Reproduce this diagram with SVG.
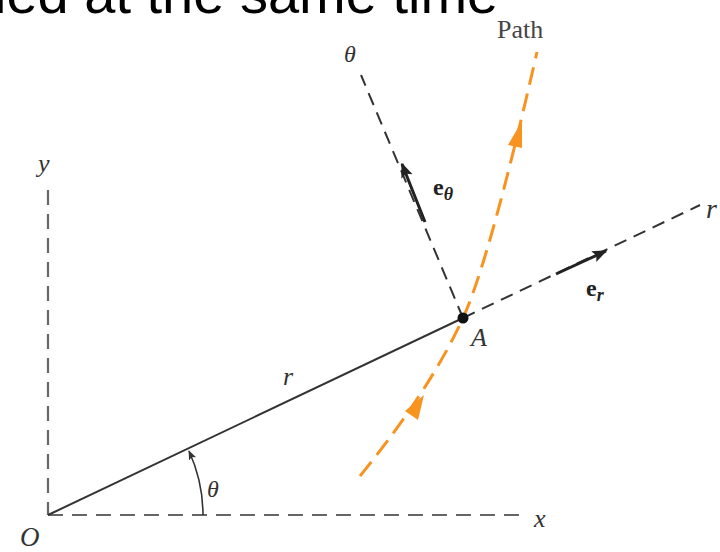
<svg xmlns="http://www.w3.org/2000/svg" width="720" height="552" viewBox="0 0 720 552">
<defs>
<style>
.lbl{font-family:"Liberation Serif","DejaVu Serif",serif;font-style:italic;fill:#333;}
.bold{font-family:"Liberation Serif","DejaVu Serif",serif;font-weight:bold;fill:#222;}
.axis{stroke:#666;stroke-width:2.2;stroke-dasharray:15 9;fill:none;}
.dash{stroke:#333;stroke-width:2;stroke-dasharray:13 8;fill:none;}
.solid{stroke:#333;stroke-width:2;fill:none;}
.path{stroke:#F7931E;stroke-width:3;stroke-dasharray:18 9;fill:none;}
</style>
<marker id="ah" viewBox="0 0 10 10" refX="9" refY="5" markerWidth="5" markerHeight="5" orient="auto" markerUnits="strokeWidth">
<path d="M0,1 L10,5 L0,9 L2,5 Z" fill="#222"/>
</marker>
<marker id="ahs" viewBox="0 0 10 10" refX="9" refY="5" markerWidth="6" markerHeight="6" orient="auto" markerUnits="strokeWidth">
<path d="M0,1 L10,5 L0,9 L2,5 Z" fill="#333"/>
</marker>
</defs>
<text x="-6" y="13" style="font-family:'Liberation Sans',Arial,sans-serif;font-size:56px;fill:#000;">ied at the same time</text>
<g id="connectors">
<line id="y-axis" class="axis" x1="48" y1="190" x2="48" y2="515"/>
<line id="x-axis" class="axis" x1="48" y1="515" x2="526" y2="515"/>
<line id="r-line" class="solid" x1="48" y1="515" x2="463" y2="318"/>
<line id="r-ext" class="dash" x1="463" y1="318" x2="700" y2="205"/>
<line id="theta-dir" class="dash" x1="463" y1="318" x2="361" y2="75"/>
<path id="angle-arc" d="M203,515 A155,155 0 0 0 189,451" stroke="#333" stroke-width="1.6" fill="none" marker-end="url(#ahs)"/>
<line id="e-theta" x1="425" y1="222" x2="402" y2="164" stroke="#222" stroke-width="3" marker-end="url(#ah)"/>
<line id="e-r" x1="556" y1="274" x2="606" y2="251" stroke="#222" stroke-width="3" marker-end="url(#ah)"/>
<path id="path-curve" class="path" d="M360,476 Q430,390 463,318 Q489.4,260.4 537,52"/>
<path d="M424,395 L418,420 L405,411 Z" fill="#F7931E"/>
<path d="M522,121 L522,148 L508,145 Z" fill="#F7931E"/>
</g>
<g id="node-A">
<circle cx="463" cy="318" r="5.5" fill="#111"/>
<text class="lbl" x="471" y="346" font-size="26">A</text>
</g>
<g id="node-O"><text class="lbl" x="20" y="546" font-size="27">O</text></g>
<g id="label-x"><text class="lbl" x="534" y="527" font-size="26">x</text></g>
<g id="label-y"><text class="lbl" x="38" y="172" font-size="26">y</text></g>
<g id="label-r-axis"><text class="lbl" x="706" y="218" font-size="28">r</text></g>
<g id="label-r"><text class="lbl" x="283" y="385" font-size="26">r</text></g>
<g id="label-theta-top"><text class="lbl" x="344" y="62" font-size="24">θ</text></g>
<g id="label-theta-arc"><text class="lbl" x="207" y="497" font-size="24">θ</text></g>
<g id="label-path"><text x="497" y="38" font-size="26" style="font-family:'Liberation Serif','DejaVu Serif',serif;fill:#444;">Path</text></g>
<g id="label-etheta"><text class="bold" x="433" y="195" font-size="24">e<tspan font-size="18" dy="5" font-style="italic">θ</tspan></text></g>
<g id="label-er"><text class="bold" x="586" y="296" font-size="24">e<tspan font-size="18" dy="5" font-style="italic">r</tspan></text></g>
</svg>
